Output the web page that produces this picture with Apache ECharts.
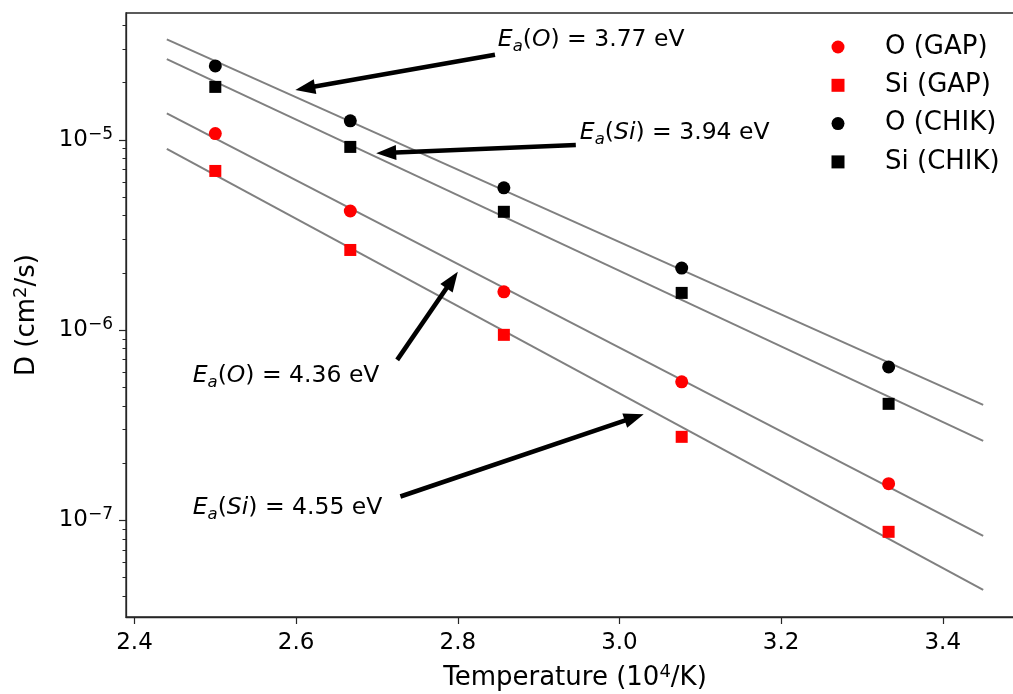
<!DOCTYPE html>
<html>
<head>
<meta charset="utf-8">
<script src="https://cdn.jsdelivr.net/npm/echarts@6.0.0/dist/echarts.min.js"></script>
<style>
html, body { margin: 0; padding: 0; background: #fff; }
#chart { width: 1013px; height: 694px; }
</style>
</head>
<body>
<div id="chart"></div>
<script>
var myChart = echarts.init(document.getElementById('chart'));

// inverse temperature, 10^4/K
var invT = [2.5, 2.667, 2.857, 3.077, 3.333];
var oGap = [1.08e-5, 4.23e-6, 1.59e-6, 5.35e-7, 1.56e-7];
var siGap = [6.87e-6, 2.64e-6, 9.45e-7, 2.75e-7, 8.71e-8];
var oChik = [2.45e-5, 1.26e-5, 5.6e-6, 2.12e-6, 6.41e-7];
var siChik = [1.90e-5, 9.19e-6, 4.19e-6, 1.57e-6, 4.10e-7];

// Arrhenius fits (end points)
var fitX = [2.44, 3.45];
var fitOChik = [3.38e-5, 4.05e-7];
var fitSiChik = [2.66e-5, 2.62e-7];
var fitOGap = [1.38e-5, 8.30e-8];
var fitSiGap = [8.97e-6, 4.32e-8];

// annotations
var annElem = ['O', 'Si', 'O', 'Si'];
var annEnergy = ['3.77', '3.94', '4.36', '4.55'];
var annTextAt = [[2.8495, 3.35e-5], [2.951, 1.088e-5], [2.472, 5.75e-7], [2.472, 1.164e-7]];
var arrowFrom = [[2.846, 2.80e-5], [2.946, 9.41e-6], [2.725, 6.98e-7], [2.729, 1.335e-7]];
var arrowTo = [[2.599, 1.83e-5], [2.699, 8.51e-6], [2.800, 2.03e-6], [3.030, 3.62e-7]];

// ticks
var xTicks = [2.4, 2.6, 2.8, 3.0, 3.2, 3.4];
var yTicks = [1e-7, 1e-6, 1e-5];
var yMinorTicks = [4e-8, 5e-8, 6e-8, 7e-8, 8e-8, 9e-8,
    2e-7, 3e-7, 4e-7, 5e-7, 6e-7, 7e-7, 8e-7, 9e-7,
    2e-6, 3e-6, 4e-6, 5e-6, 6e-6, 7e-6, 8e-6, 9e-6,
    2e-5, 3e-5, 4e-5];

var xMin = 2.3895, xMax = 3.5005;
var yMin = 3.107e-8, yMax = 4.647e-5;

var font = 'DejaVu Sans';
var axisColor = '#262626';

function pairs(xs, ys) {
    var out = [];
    for (var i = 0; i < xs.length; i++) out.push([xs[i], ys[i]]);
    return out;
}

function fitSeries(name, ys) {
    return {
        name: name,
        type: 'line',
        data: pairs(fitX, ys),
        showSymbol: false,
        symbol: 'none',
        silent: true,
        lineStyle: {color: '#808080', width: 2},
        z: 1
    };
}

function pointSeries(name, ys, symbol, color, size) {
    return {
        name: name,
        type: 'scatter',
        data: pairs(invT, ys),
        symbol: symbol,
        symbolSize: size,
        itemStyle: {color: color, opacity: 1},
        z: 3
    };
}

var arrowData = [];
for (var i = 0; i < arrowFrom.length; i++) {
    arrowData.push([arrowFrom[i][0], arrowFrom[i][1], arrowTo[i][0], arrowTo[i][1]]);
}

// arrow: shaft + filled triangular head, tip exactly at the target point
function renderArrow(params, api) {
    var p0 = api.coord([api.value(0), api.value(1)]);
    var p1 = api.coord([api.value(2), api.value(3)]);
    var dx = p1[0] - p0[0], dy = p1[1] - p0[1];
    var len = Math.sqrt(dx * dx + dy * dy);
    var ux = dx / len, uy = dy / len;
    var headLen = 20, headHalf = 7.5;
    var bx = p1[0] - ux * headLen, by = p1[1] - uy * headLen;
    return {
        type: 'group',
        children: [
            {
                type: 'line',
                shape: {x1: p0[0], y1: p0[1], x2: p1[0] - ux * 14, y2: p1[1] - uy * 14},
                style: {stroke: '#000', lineWidth: 4.6}
            },
            {
                type: 'polygon',
                shape: {points: [
                    [p1[0], p1[1]],
                    [bx - uy * headHalf, by + ux * headHalf],
                    [bx + uy * headHalf, by - ux * headHalf]
                ]},
                style: {fill: '#000'}
            }
        ]
    };
}

var nameRich = {
    sup: {fontFamily: font, fontSize: 18, color: '#000', lineHeight: 18, verticalAlign: 'top'}
};
var tickRich = {
    b: {fontFamily: font, fontSize: 23, color: '#000', lineHeight: 28},
    sup: {fontFamily: font, fontSize: 17, color: '#000', lineHeight: 17, verticalAlign: 'top'}
};

myChart.setOption({
    backgroundColor: '#fff',
    animation: false,
    grid: {
        left: 126, right: -11, top: 13, bottom: 77,
        outerBoundsMode: 'none',
        containLabel: false,
        show: true, borderColor: axisColor, borderWidth: 1.3, backgroundColor: 'transparent'
    },
    legend: {
        orient: 'vertical',
        left: 831.5,
        top: 34,
        padding: 0,
        itemWidth: 13,
        itemHeight: 13,
        itemGap: 12.3,
        data: ['O (GAP)', 'Si (GAP)', 'O (CHIK)', 'Si (CHIK)'],
        textStyle: {fontFamily: font, fontSize: 26, color: '#000', lineHeight: 26, padding: [0, 0, 0, 35.5]}
    },
    xAxis: {
        type: 'value',
        min: xMin,
        max: xMax,
        name: 'Temperature (10{sup|4}/K)',
        nameLocation: 'middle',
        nameGap: 46,
        nameTextStyle: {fontFamily: font, fontSize: 26, color: '#000', lineHeight: 30, rich: nameRich},
        axisLine: {show: true, onZero: false, lineStyle: {color: axisColor, width: 1.3}},
        axisTick: {show: true, length: 7, customValues: xTicks, lineStyle: {color: axisColor, width: 1.2}},
        axisLabel: {
            customValues: xTicks,
            margin: 15,
            fontFamily: font, fontSize: 23, color: '#000',
            formatter: function (v) { return v.toFixed(1); }
        },
        splitLine: {show: false}
    },
    yAxis: [
        {
            type: 'log',
            min: yMin,
            max: yMax,
            name: 'D (cm{sup|2}/s)',
            nameLocation: 'middle',
            nameRotate: 90,
            nameGap: 84,
            nameTextStyle: {fontFamily: font, fontSize: 26, color: '#000', lineHeight: 30, rich: nameRich},
            axisLine: {show: true, onZero: false, lineStyle: {color: axisColor, width: 1.3}},
            axisTick: {show: true, length: 7, customValues: yTicks, lineStyle: {color: axisColor, width: 1.2}},
            axisLabel: {
                customValues: yTicks,
                margin: 13,
                formatter: function (v) {
                    var e = Math.round(Math.log(v) / Math.LN10);
                    return '{b|10}{sup|\u2212' + (-e) + '}';
                },
                rich: tickRich
            },
            splitLine: {show: false},
            minorTick: {show: false}
        },
        {
            type: 'log',
            min: yMin,
            max: yMax,
            position: 'left',
            axisLine: {show: false},
            axisTick: {show: true, length: 3.5, customValues: yMinorTicks, lineStyle: {color: axisColor, width: 1}},
            axisLabel: {show: false},
            splitLine: {show: false}
        }
    ],
    series: [
        fitSeries('fit O CHIK', fitOChik),
        fitSeries('fit Si CHIK', fitSiChik),
        fitSeries('fit O GAP', fitOGap),
        fitSeries('fit Si GAP', fitSiGap),
        pointSeries('O (GAP)', oGap, 'circle', '#ff0000', 13),
        pointSeries('Si (GAP)', siGap, 'rect', '#ff0000', 12),
        pointSeries('O (CHIK)', oChik, 'circle', '#000000', 13),
        pointSeries('Si (CHIK)', siChik, 'rect', '#000000', 12),
        {
            name: 'arrows',
            type: 'custom',
            data: arrowData,
            dimensions: ['x0', 'y0', 'x1', 'y1'],
            encode: {x: [0, 2], y: [1, 3]},
            renderItem: renderArrow,
            silent: true,
            clip: false,
            z: 4
        }
    ]
});

// annotation texts, placed from data coordinates
var graphics = [];
for (var j = 0; j < annTextAt.length; j++) {
    var p = myChart.convertToPixel({gridIndex: 0}, annTextAt[j]);
    graphics.push({
        type: 'text',
        x: p[0],
        y: p[1],
        z: 10,
        style: {
            text: '{i|E}{s|a}{n|(}{i|' + annElem[j] + '}{n|) = ' + annEnergy[j] + ' eV}',
            align: 'left',
            verticalAlign: 'middle',
            rich: {
                i: {fontFamily: font, fontSize: 23.5, fontStyle: 'italic', fill: '#000', lineHeight: 30},
                n: {fontFamily: font, fontSize: 23.5, fill: '#000', lineHeight: 30},
                s: {fontFamily: font, fontSize: 16.5, fontStyle: 'italic', fill: '#000', lineHeight: 16, verticalAlign: 'bottom'}
            }
        }
    });
}
myChart.setOption({graphic: graphics});
</script>
</body>
</html>
